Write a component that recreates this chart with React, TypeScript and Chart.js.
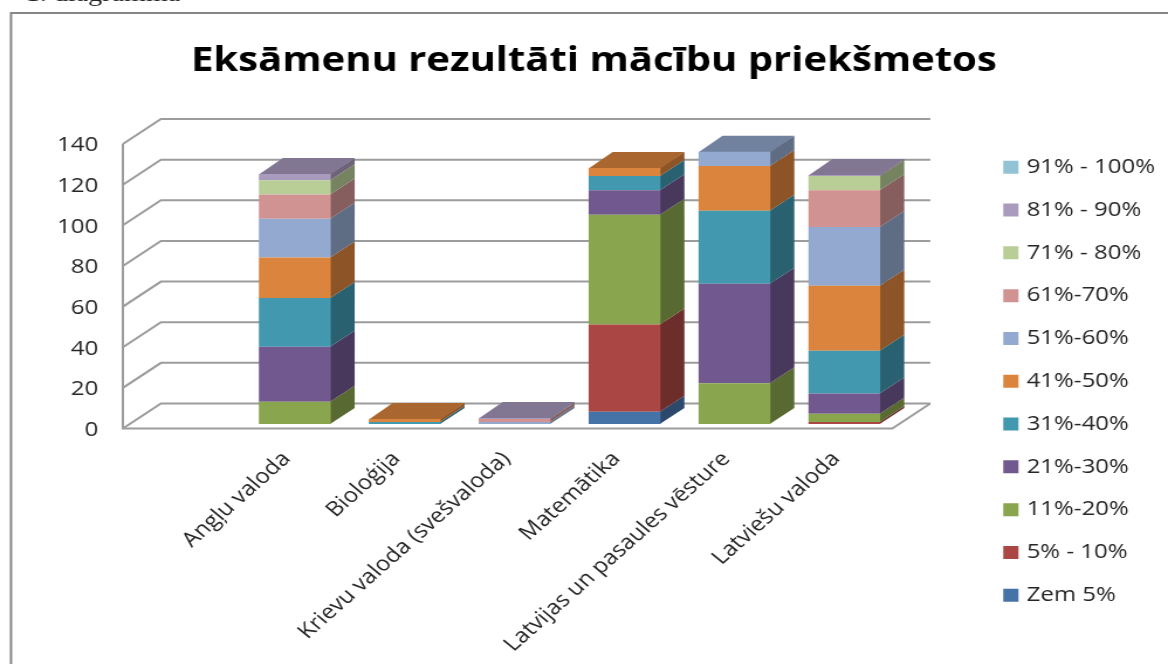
import React, { useEffect, useRef } from "react";
import { Chart, registerables } from "chart.js";

Chart.register(...registerables);

const titleText = "Eksāmenu rezultāti mācību priekšmetos";
const categories = ["", "Angļu valoda", "Bioloģija", "Krievu valoda (svešvaloda)", "Matemātika", "Latvijas un pasaules vēsture", "Latviešu valoda"];

const zem5 = [null, null, null, null, 6, null, null];
const p5to10 = [null, null, null, null, 43, null, 1];
const p11to20 = [null, 11, null, null, 54, 20, 4];
const p21to30 = [null, 27, null, null, 12, 49, 10];
const p31to40 = [null, 24, 1, null, 7, 36, 21];
const p41to50 = [null, 20, 1.5, null, 4, 22, 32];
const p51to60 = [null, 19, null, 1, null, 7, 29];
const p61to70 = [null, 12, null, 1.5, null, null, 18];
const p71to80 = [null, 7, null, null, null, null, 7];
const p81to90 = [null, 3, null, 0.5, null, null, 0.5];
const p91to100 = [null, null, null, null, null, null, null];

const seriesNames = ["Zem 5%", "5% - 10%", "11%-20%", "21%-30%", "31%-40%", "41%-50%", "51%-60%", "61%-70%", "71% - 80%", "81% - 90%", "91% - 100%"];
const seriesValues = [zem5, p5to10, p11to20, p21to30, p31to40, p41to50, p51to60, p61to70, p71to80, p81to90, p91to100];
const seriesColors = [[69, 114, 167], [170, 70, 67], [137, 165, 78], [113, 88, 143], [65, 152, 175], [219, 132, 61], [147, 169, 207], [209, 147, 146], [185, 205, 150], [169, 155, 189], [146, 195, 212]];

const FONT = "'Open Sans', sans-serif";
const LOGICAL_W = 998;
const STRETCH = 1168 / LOGICAL_W;
const WALL_DX = 32.5;
const WALL_DY = 25;
const BAR_DX = 20.5;
const BAR_DY = 16;
const GRID = "#9c9c9c";
const LEGEND_PAD = 22.3;
const LEGEND_BOX_W = 6.3;
const TITLE_SHIFT = 34.4;

const shade = (c: number[], k: number) => `rgb(${Math.round(c[0] * k)},${Math.round(c[1] * k)},${Math.round(c[2] * k)})`;

const poly = (ctx: CanvasRenderingContext2D, pts: number[][], fill: string) => {
  ctx.beginPath();
  pts.forEach((p, i) => (i ? ctx.lineTo(p[0], p[1]) : ctx.moveTo(p[0], p[1])));
  ctx.closePath();
  ctx.fillStyle = fill;
  ctx.fill();
};

const depth3d = {
  id: "depth3d",
  afterLayout(chart: any) {
    const leg = chart.legend;
    const w = leg.width;
    leg.left = 860.6 - LEGEND_PAD;
    leg.right = leg.left + w;
    const h = leg.height;
    leg.top = 157 - LEGEND_PAD;
    leg.bottom = leg.top + h;
    chart.titleBlock.left += TITLE_SHIFT;
    chart.titleBlock.right += TITLE_SHIFT;
  },
  beforeDraw(chart: any) {
    const { ctx } = chart;
    ctx.save();
    ctx.fillStyle = "#ffffff";
    ctx.fillRect(0, 0, chart.width, chart.height);
    ctx.fillStyle = "#222222";
    ctx.font = "24px 'Liberation Serif', serif";
    ctx.textBaseline = "alphabetic";
    ctx.fillText("1. diagramma", 22, 0.5);
    ctx.strokeStyle = "#868686";
    ctx.lineWidth = 2;
    ctx.beginPath();
    ctx.moveTo(9.4, 664);
    ctx.lineTo(9.4, 13);
    ctx.lineTo(chart.width, 13);
    ctx.stroke();
    ctx.restore();
  },
  beforeDatasetsDraw(chart: any) {
    const { ctx, chartArea } = chart;
    const y = chart.scales.y;
    const fx = (BAR_DX - WALL_DX) / 2;
    const fy = (WALL_DY - BAR_DY) / 2;
    const left = chartArea.left + fx;
    const right = chartArea.right + fx;
    ctx.save();
    ctx.strokeStyle = GRID;
    ctx.lineWidth = 2;
    y.ticks.forEach((t: any) => {
      const py = y.getPixelForValue(t.value) + fy;
      ctx.beginPath();
      ctx.moveTo(left, py);
      ctx.lineTo(left + WALL_DX, py - WALL_DY);
      ctx.lineTo(right + WALL_DX, py - WALL_DY);
      ctx.stroke();
    });
    const y0 = y.getPixelForValue(0) + fy;
    const yTop = y.getPixelForValue(140) + fy;
    ctx.beginPath();
    ctx.moveTo(left, yTop);
    ctx.lineTo(left, y0);
    ctx.lineTo(right, y0);
    ctx.lineTo(right + WALL_DX, y0 - WALL_DY);
    ctx.stroke();

    categories.forEach((_, j) => {
      let top: { el: any; c: number[] } | null = null;
      seriesValues.forEach((vals, i) => {
        if (!vals[j]) return;
        const el = chart.getDatasetMeta(i).data[j];
        const r = el.x + el.width / 2;
        poly(ctx, [[r - 0.5, el.y], [r + BAR_DX, el.y - BAR_DY], [r + BAR_DX, el.base - BAR_DY], [r - 0.5, el.base]], shade(seriesColors[i], 0.64));
        top = { el, c: seriesColors[i] };
      });
      if (top) {
        const { el, c } = top as { el: any; c: number[] };
        const l = el.x - el.width / 2;
        const r = el.x + el.width / 2;
        poly(ctx, [[l, el.y + 0.5], [l + BAR_DX, el.y - BAR_DY], [r + BAR_DX, el.y - BAR_DY], [r, el.y + 0.5]], shade(c, 0.77));
      }
    });
    ctx.restore();
  },
};

export default function App() {
  const ref = useRef<HTMLCanvasElement>(null);
  useEffect(() => {
    const chart = new Chart(ref.current as HTMLCanvasElement, {
      type: "bar",
      data: {
        labels: categories,
        datasets: seriesNames.map((name, i) => ({
          label: name,
          data: seriesValues[i],
          backgroundColor: shade(seriesColors[i], 1),
          borderWidth: 0,
          categoryPercentage: 0.653,
          barPercentage: 1,
        })),
      },
      options: {
        responsive: false,
        animation: false,
        layout: { padding: { left: 19, right: 71, top: 0, bottom: 0 } },
        plugins: {
          tooltip: { enabled: false },
          title: {
            display: true,
            text: titleText,
            color: "#000000",
            font: { family: FONT, size: 34.2, weight: "bold" },
            padding: { top: 40.5, bottom: 58 },
          },
          legend: {
            position: "right",
            align: "start",
            reverse: true,
            labels: {
              color: "#262626",
              font: { family: FONT, size: 20.5 },
              usePointStyle: true,
              pointStyle: "rect",
              boxWidth: LEGEND_BOX_W,
              boxHeight: 13,
              padding: LEGEND_PAD,
            },
          },
        },
        scales: {
          x: {
            stacked: true,
            grid: { display: false },
            border: { display: false },
            afterFit(s: any) {
              s.height = 240;
            },
            ticks: {
              autoSkip: false,
              minRotation: 46,
              maxRotation: 46,
              color: "#262626",
              padding: 15,
              labelOffset: -7,
              font: { family: FONT, size: 20.5 },
            },
          },
          y: {
            stacked: true,
            min: 0,
            max: 140,
            grid: { display: false, drawTicks: false },
            border: { display: false },
            afterFit(s: any) {
              s.width = 92;
            },
            ticks: {
              stepSize: 20,
              color: "#262626",
              padding: 27,
              labelOffset: 6,
              font: { family: FONT, size: 20.5 },
            },
          },
        },
      },
      plugins: [depth3d],
    } as any);
    return () => chart.destroy();
  }, []);
  return (
    <div style={{ position: "absolute", left: 0, top: 0, width: 1168, height: 664, overflow: "hidden" }}>
      <div style={{ width: LOGICAL_W, height: 664, transform: `scaleX(${STRETCH})`, transformOrigin: "0 0" }}>
        <canvas ref={ref} width={LOGICAL_W} height={664} style={{ display: "block" }} />
      </div>
    </div>
  );
}
